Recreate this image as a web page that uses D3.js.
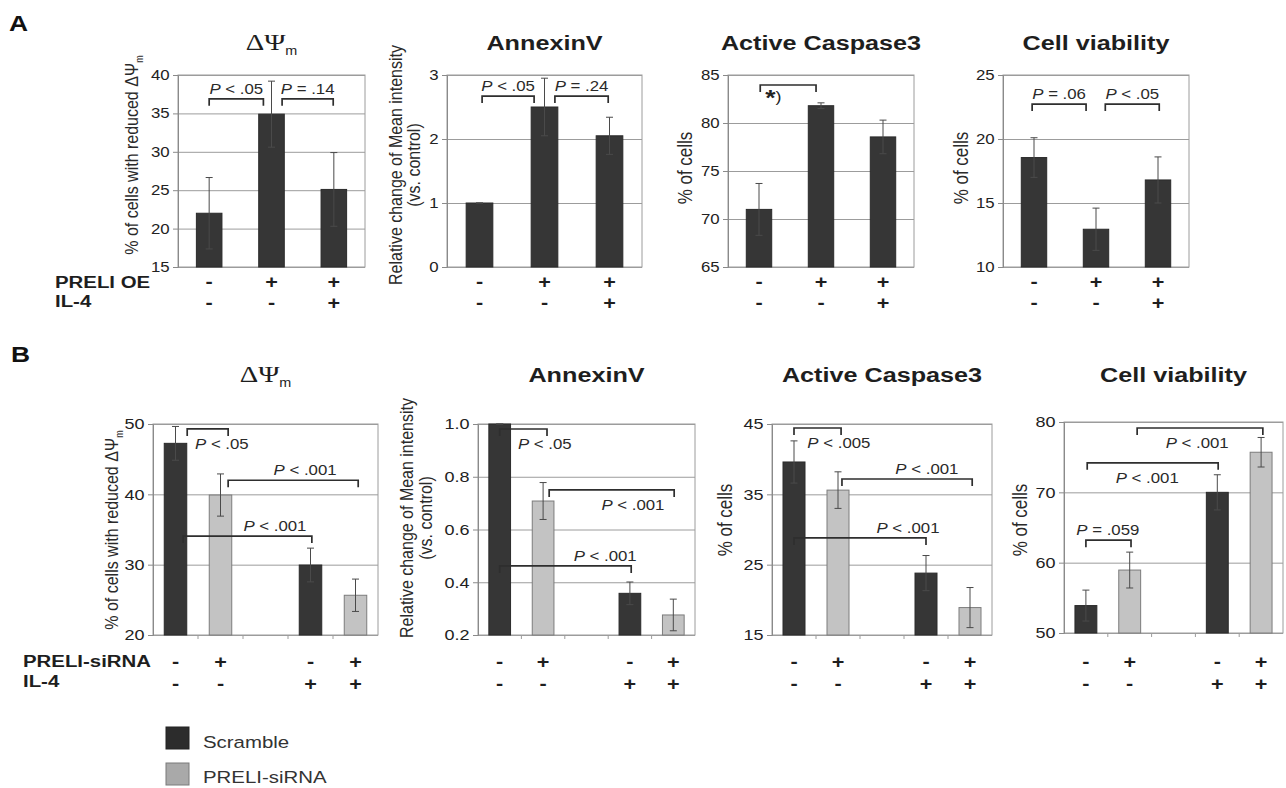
<!DOCTYPE html>
<html lang="en">
<head>
<meta charset="UTF-8" />
<title>PRELI - mitochondrial potential, AnnexinV, Caspase3, viability</title>
<script src="https://d3js.org/d3.v7.min.js"></script>
<style>
  body { margin: 0; background: #fff; }
  svg { display: block; font-family: Arial, "Liberation Sans", sans-serif; }
  text { white-space: pre; }
</style>
</head>
<body>
<svg id="fig" width="1286" height="788"></svg>
<script>
// ---- panel A: PRELI overexpression ----
const aSlots = ["ctrl", "OE", "OE+IL4"];
const aPreliOE = ["-", "+", "+"];
const aIL4 = ["-", "-", "+"];

const aPsiTicks = [15, 20, 25, 30, 35, 40];
const aPsiMean = [22.0, 34.9, 25.1];
const aPsiErr = [4.65, 4.3, 4.8];
const aPsiBrackets = [[0, 0.87, 36.9, "P < .05"], [1.17, 1.99, 36.9, "P = .14"]];

const aAnnexTicks = [0, 1, 2, 3];
const aAnnexMean = [1.0, 2.5, 2.05];
const aAnnexErr = [0.0, 0.45, 0.29];
const aAnnexBrackets = [[0.04, 0.84, 2.67, "P < .05"], [1.16, 1.98, 2.67, "P = .24"]];

const aCaspTicks = [65, 70, 75, 80, 85];
const aCaspMean = [71.0, 81.8, 78.55];
const aCaspErr = [2.7, 0.3, 1.75];
const aCaspBrackets = [[0.02, 0.92, 83.96, "*)", 0.23, "below"]];

const aViabTicks = [10, 15, 20, 25];
const aViabMean = [18.55, 12.95, 16.8];
const aViabErr = [1.55, 1.65, 1.8];
const aViabBrackets = [[-0.03, 0.84, 22.73, "P = .06"], [1.15, 2.02, 22.73, "P < .05"]];

// ---- panel B: PRELI knock-down (middle slot is an empty gap) ----
const bSlots = ["scr", "si", "gap", "scr+IL4", "si+IL4"];
const bBarSlots = [0, 1, 3, 4];
const bSeries = ["Scramble", "PRELI-siRNA", "Scramble", "PRELI-siRNA"];
const bPreliSi = ["-", "+", "-", "+"];
const bIL4 = ["-", "-", "+", "+"];

const bPsiTicks = [20, 30, 40, 50];
const bPsiMean = [47.25, 39.9, 29.95, 25.65];
const bPsiErr = [2.4, 3.0, 2.4, 2.3];
const bPsiBrackets = [
  [0.26, 1.17, 49.3, "P < .05", 1.03, "below"],
  [1.17, 4.06, 42.0, "P < .001", 2.88, "above"],
  [0.17, 3.03, 34.07, "P < .001", 2.21, "above"]
];

const bAnnexTicks = [0.2, 0.4, 0.6, 0.8, 1.0];
const bAnnexMean = [1.0, 0.708, 0.358, 0.276];
const bAnnexErr = [0.0, 0.07, 0.043, 0.06];
const bAnnexBrackets = [
  [0, 1.09, 0.981, "P < .05", 1.04, "below"],
  [1.14, 4.02, 0.75, "P < .001", 3.07, "below"],
  [0, 3.03, 0.462, "P < .001", 2.43, "above"]
];

const bCaspTicks = [15, 25, 35, 45];
const bCaspMean = [39.6, 35.6, 23.8, 18.9];
const bCaspErr = [3.0, 2.6, 2.5, 2.85];
const bCaspBrackets = [
  [0, 1.07, 44.43, "P < .005", 1.02, "below"],
  [1.09, 4.05, 37.18, "P < .001", 3.02, "above"],
  [0, 3.0, 28.8, "P < .001", 2.59, "above"]
];

const bViabTicks = [50, 60, 70, 80];
const bViabMean = [53.9, 58.95, 70.0, 75.7];
const bViabErr = [2.2, 2.55, 2.5, 2.1];
const bViabBrackets = [
  [0, 1.03, 63.2, "P = .059", 0.5, "above"],
  [0.03, 3.02, 74.2, "P < .001", 1.4, "below"],
  [1.17, 4.04, 79.15, "P < .001", 2.54, "below"]
];

const legendItems = ["Scramble", "PRELI-siRNA"];

// ---- drawing ----
const svg = d3.select("#fig");
const SX = 1.2; // the source figure is stretched horizontally
const FONT = "Arial, 'Liberation Sans', sans-serif";
const DARK = "#363636";
const LIGHT = "#c3c3c3";
const color = d3.scaleOrdinal().domain(legendItems).range([DARK, LIGHT]);

function stretchedText(parent, x, y, o) {
  const g = parent.append("g")
    .attr("transform", `translate(${x},${y}) scale(${SX},1)` + (o.rotate ? " rotate(-90)" : ""));
  return g.append("text")
    .attr("text-anchor", o.anchor || "middle")
    .attr("font-size", o.size || 14)
    .attr("font-weight", o.weight || "normal")
    .attr("font-family", o.family || FONT)
    .attr("fill", o.fill || "#1e1e1e");
}

function drawPanel(p) {
  const g = svg.append("g");
  const x = d3.scaleBand().domain(p.slots).range([p.left, p.right]);
  const bw = x.bandwidth();
  const y = d3.scaleLinear().domain(d3.extent(p.ticks)).range([p.bottom, p.top]);
  // slot units -> pixel (0 = centre of first slot)
  const pos = d3.scaleLinear().domain([0, 1]).range([x(p.slots[0]) + bw / 2, x(p.slots[1]) + bw / 2]);

  // gridlines
  g.append("g")
    .attr("transform", `translate(${p.left},0)`)
    .call(d3.axisLeft(y).tickValues(p.ticks).tickSize(-(p.right - p.left)).tickFormat(""))
    .call((a) => a.select(".domain").remove())
    .selectAll("line").attr("stroke", "#9c9c9c");

  g.append("rect")
    .attr("x", p.left).attr("y", p.top)
    .attr("width", p.right - p.left).attr("height", p.bottom - p.top)
    .attr("fill", "none").attr("stroke", "#9c9c9c");

  // small category ticks on the x axis
  if (p.slotTicks) {
    g.selectAll(".xt").data(p.slots.slice(1)).enter().append("line")
      .attr("x1", (d) => x(d)).attr("x2", (d) => x(d))
      .attr("y1", p.bottom).attr("y2", p.bottom + 4)
      .attr("stroke", "#9c9c9c");
  }

  const ya = g.append("g")
    .attr("transform", `translate(${p.left},0)`)
    .attr("font-family", FONT)
    .call(d3.axisLeft(y).tickValues(p.ticks).tickFormat(p.fmt).tickSize(5).tickPadding(2));
  ya.select(".domain").attr("stroke", "#8a8a8a");
  ya.selectAll(".tick line").attr("stroke", "#8a8a8a");
  ya.selectAll(".tick text")
    .attr("transform", `scale(${SX},1)`)
    .attr("font-size", p.tickFont)
    .attr("fill", "#222");

  const rows = p.barIdx.map((s, i) => ({
    slot: p.slots[s], idx: s, mean: p.means[i], err: p.errs[i], series: p.series[i]
  }));
  const barW = bw * p.barFrac;

  g.selectAll(".bar").data(rows).enter().append("rect")
    .attr("x", (d) => x(d.slot) + (bw - barW) / 2)
    .attr("y", (d) => y(d.mean))
    .attr("width", barW)
    .attr("height", (d) => y(p.ticks[0]) - y(d.mean))
    .attr("fill", (d) => color(d.series))
    .attr("stroke", (d) => (d.series === "Scramble" ? "#2a2a2a" : "#7c7c7c"))
    .attr("stroke-width", 1);

  const eb = g.selectAll(".err").data(rows).enter().append("g")
    .attr("stroke", "#4a4a4a").attr("stroke-width", 1);
  eb.append("line")
    .attr("x1", (d) => pos(d.idx)).attr("x2", (d) => pos(d.idx))
    .attr("y1", (d) => y(d.mean - d.err)).attr("y2", (d) => y(d.mean + d.err));
  [-1, 1].forEach((s) => {
    eb.append("line")
      .attr("x1", (d) => pos(d.idx) - 3.5).attr("x2", (d) => pos(d.idx) + 3.5)
      .attr("y1", (d) => y(d.mean + s * d.err)).attr("y2", (d) => y(d.mean + s * d.err));
  });

  // significance brackets
  p.brackets.forEach((b) => {
    const [a, c, v, lab, at, side] = b;
    const yy = y(v);
    g.append("path")
      .attr("d", `M${pos(a)},${yy + 7}V${yy}H${pos(c)}V${yy + 7}`)
      .attr("fill", "none").attr("stroke", "#2e2e2e").attr("stroke-width", 1.7);
    const lx = at === undefined ? (pos(a) + pos(c)) / 2 : pos(at);
    const ly = side === "below" ? yy + 20 : yy - 5;
    if (lab[0] === "P") {
      const t = stretchedText(g, lx, ly, { size: 14, fill: "#2a2a2a" });
      t.append("tspan").attr("font-style", "italic").text("P");
      t.append("tspan").text(lab.slice(1));
    } else {
      const t = stretchedText(g, lx, ly, { size: 22, weight: "bold", fill: "#222" });
      t.append("tspan").text(lab[0]);
      t.append("tspan").attr("font-size", 15).attr("font-weight", "normal").attr("dy", -3).text(lab.slice(1));
    }
  });

  // title
  const cx = (p.left + p.right) / 2;
  if (p.title === "psi") {
    const t = stretchedText(g, cx, p.titleY, { size: 24, family: "'Liberation Serif', 'DejaVu Serif', serif", fill: "#1e1e1e" });
    t.append("tspan").text("ΔΨ");
    t.append("tspan").attr("font-size", 12).attr("font-family", FONT).attr("dy", 5).text("m");
  } else {
    stretchedText(g, cx, p.titleY, { size: 21, weight: "bold", fill: "#1e1e1e" }).text(p.title);
  }

  // y-axis label (rotated)
  p.ylabel.forEach((line, i) => {
    const t = stretchedText(g, p.ylabelX[i], p.ylabelY,
      { size: line.length > 12 ? 16 : 17, rotate: true, fill: "#2a2a2a" });
    if (line.endsWith("ΔΨm")) {
      t.append("tspan").text(line.slice(0, -1));
      t.append("tspan").attr("font-size", 9).attr("dy", 4).text("m");
    } else {
      t.text(line);
    }
  });

  // +/- rows
  p.signRows.forEach((signs, r) => {
    signs.forEach((s, i) => {
      stretchedText(g, pos(p.barIdx[i]), p.signY[r], { size: 18, weight: "bold", fill: "#1e1e1e" }).text(s);
    });
  });
}

const psiLabel = ["% of cells with reduced ΔΨm"];
const annexLabel = ["Relative change of Mean intensity", "(vs. control)"];
const cellsLabel = ["% of cells"];
const darkA = ["Scramble", "Scramble", "Scramble"];

const common = { fmt: d3.format("d"), tickFont: 14 };
const panelsA = [
  { left: 178, right: 365, ticks: aPsiTicks, means: aPsiMean, errs: aPsiErr, brackets: aPsiBrackets,
    title: "psi", ylabel: psiLabel, ylabelX: [138], ylabelY: 155 },
  { left: 447, right: 642, ticks: aAnnexTicks, means: aAnnexMean, errs: aAnnexErr, brackets: aAnnexBrackets,
    title: "AnnexinV", ylabel: annexLabel, ylabelX: [402, 420], ylabelY: 165 },
  { left: 728, right: 914, ticks: aCaspTicks, means: aCaspMean, errs: aCaspErr, brackets: aCaspBrackets,
    title: "Active Caspase3", ylabel: cellsLabel, ylabelX: [692], ylabelY: 168 },
  { left: 1003, right: 1189, ticks: aViabTicks, means: aViabMean, errs: aViabErr, brackets: aViabBrackets,
    title: "Cell viability", ylabel: cellsLabel, ylabelX: [968], ylabelY: 168 }
];
panelsA.forEach((p) => drawPanel(Object.assign({}, common, p, {
  slots: aSlots, barIdx: [0, 1, 2], series: darkA, top: 75, bottom: 267, barFrac: 0.41,
  titleY: 50, signRows: [aPreliOE, aIL4], signY: [288, 309]
})));

const panelsB = [
  { left: 153, right: 378, top: 424, bottom: 635, ticks: bPsiTicks, means: bPsiMean, errs: bPsiErr,
    brackets: bPsiBrackets, title: "psi", ylabel: psiLabel, ylabelX: [118], ylabelY: 530 },
  { left: 478, right: 695, top: 424, bottom: 635, ticks: bAnnexTicks, means: bAnnexMean, errs: bAnnexErr,
    brackets: bAnnexBrackets, title: "AnnexinV", ylabel: annexLabel, ylabelX: [413, 432], ylabelY: 518,
    fmt: d3.format(".1f") },
  { left: 772, right: 992, top: 424, bottom: 635, ticks: bCaspTicks, means: bCaspMean, errs: bCaspErr,
    brackets: bCaspBrackets, title: "Active Caspase3", ylabel: cellsLabel, ylabelX: [732], ylabelY: 520 },
  { left: 1064, right: 1283, top: 422, bottom: 633, ticks: bViabTicks, means: bViabMean, errs: bViabErr,
    brackets: bViabBrackets, title: "Cell viability", ylabel: cellsLabel, ylabelX: [1027], ylabelY: 520 }
];
panelsB.forEach((p) => drawPanel(Object.assign({}, common, { tickFont: 15 }, p, {
  slots: bSlots, barIdx: bBarSlots, series: bSeries, barFrac: 0.5, slotTicks: true,
  titleY: 382, signRows: [bPreliSi, bIL4], signY: [668, 690]
})));

// panel letters and row headers
stretchedText(svg, 9, 31, { size: 22, weight: "bold", anchor: "start", fill: "#111" }).text("A");
stretchedText(svg, 11, 362, { size: 22, weight: "bold", anchor: "start", fill: "#111" }).text("B");
stretchedText(svg, 55, 288, { size: 17, weight: "bold", anchor: "start" }).text("PRELI OE");
stretchedText(svg, 55, 307, { size: 17, weight: "bold", anchor: "start" }).text("IL-4");
stretchedText(svg, 23, 667, { size: 17, weight: "bold", anchor: "start" }).text("PRELI-siRNA");
stretchedText(svg, 23, 687, { size: 17, weight: "bold", anchor: "start" }).text("IL-4");

// legend
const lg = svg.append("g");
legendItems.forEach((name, i) => {
  lg.append("rect")
    .attr("x", 166).attr("y", 727 + i * 36).attr("width", 23).attr("height", 22)
    .attr("fill", i === 0 ? "#2c2c2c" : "#a9a9a9")
    .attr("stroke", i === 0 ? "#222" : "#7a7a7a");
  stretchedText(lg, 203, 748 + i * 35, { size: 17, anchor: "start", fill: "#333" }).text(name);
});
</script>
</body>
</html>
